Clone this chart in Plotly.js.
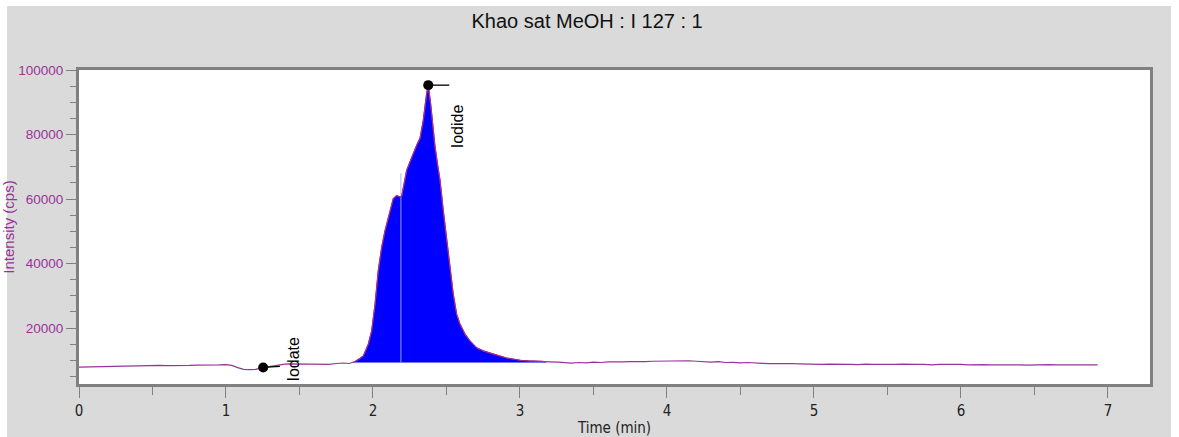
<!DOCTYPE html>
<html>
<head>
<meta charset="utf-8">
<script src="https://cdn.plot.ly/plotly-3.0.1.min.js"></script>
<style>html,body{margin:0;padding:0;background:#fff;}#chart{width:1179px;height:437px;}</style>
</head>
<body>
<div id="chart"></div>
<script>
// Chromatogram: time (min) and intensity (cps)
const timeMin = [
  0, 0.05, 0.1, 0.15, 0.2, 0.25, 0.3, 0.35, 0.4, 0.45, 0.5, 0.55, 0.6, 0.65, 0.7, 0.75, 0.8, 0.85, 0.9, 0.95,
  1.0, 1.04, 1.08, 1.12, 1.16, 1.2, 1.25, 1.3, 1.35, 1.4, 1.45, 1.5, 1.55, 1.6, 1.65, 1.7, 1.75, 1.8, 1.84,
  1.88, 1.91, 1.934, 1.95, 1.968, 1.991, 2.014, 2.036, 2.059, 2.082, 2.104, 2.12, 2.138, 2.161, 2.18, 2.195,
  2.206, 2.229, 2.247, 2.263, 2.286, 2.3, 2.32, 2.342, 2.365, 2.376, 2.392, 2.405, 2.422, 2.44, 2.456, 2.478,
  2.495, 2.512, 2.53, 2.546, 2.569, 2.592, 2.626, 2.66, 2.705, 2.751, 2.8, 2.85, 2.909, 2.95, 3.0, 3.06,
  3.114, 3.16, 3.204, 3.26,
  3.3, 3.35, 3.4, 3.45, 3.5, 3.55, 3.6, 3.65, 3.7, 3.75, 3.8, 3.85, 3.9, 3.95, 4.0, 4.05, 4.1, 4.15, 4.2,
  4.25, 4.3, 4.35, 4.4, 4.45, 4.5, 4.55, 4.6, 4.65, 4.7, 4.75, 4.8, 4.85, 4.9, 4.95, 5.0, 5.05, 5.1, 5.15,
  5.2, 5.25, 5.3, 5.35, 5.4, 5.45, 5.5, 5.55, 5.6, 5.65, 5.7, 5.75, 5.8, 5.85, 5.9, 5.95, 6.0, 6.05, 6.1,
  6.15, 6.2, 6.25, 6.3, 6.35, 6.4, 6.45, 6.5, 6.55, 6.6, 6.65, 6.7, 6.75, 6.8, 6.85, 6.93
];
const intensityCps = [
  7900, 7950, 7900, 8050, 8150, 8250, 8200, 8300, 8250, 8350, 8300, 8400, 8350, 8300, 8450, 8400, 8500, 8450, 8600, 8550,
  8650, 8400, 7700, 7200, 7100, 7150, 7700, 8100, 8500, 8800, 8900, 8850, 8950, 8800, 8900, 8750, 9000, 9150, 9000,
  9700, 10500, 11350, 13000, 15000, 19100, 27400, 37800, 45000, 50200, 54400, 57500, 60100, 61100, 60700, 60800,
  63700, 68900, 71000, 73000, 75600, 77000, 78800, 84400, 92700, 95300, 89600, 83000, 76200, 70500, 65800, 56500,
  50000, 44000, 36500, 30500, 24300, 21200, 18100, 16000, 13900, 12900, 12200, 11500, 10700, 10400, 10000, 9800,
  9600, 9650, 9500, 9400,
  9300, 9100, 9300, 9200, 9400, 9300, 9500, 9400, 9500, 9600, 9500, 9600, 9700, 9750, 9850, 9900, 9800, 9850, 9700,
  9500, 9400, 9600, 9300, 9350, 9200, 9300, 9100, 9050, 8950, 9000, 8950, 9000, 8900, 8800, 8850, 8700, 8800, 8850,
  8700, 8750, 8650, 8800, 8700, 8650, 8750, 8700, 8800, 8650, 8700, 8750, 8600, 8700, 8750, 8650, 8700, 8600, 8700,
  8650, 8550, 8600, 8650, 8550, 8600, 8500, 8600, 8550, 8650, 8600, 8550, 8650, 8600, 8550, 8600
];

// Integrated peak window and its baseline
const fillStartTime = 1.86;
const fillEndTime = 3.18;
const fillBaseline = 9300;
// faint split line inside the integrated area
const splitTime = [2.19, 2.19];
const splitLevel = [9300, 68000];

// Peak markers
const peakNames = ['Iodate', 'Iodide'];
const peakTimes = [1.253, 2.376];
const peakHeights = [7770, 95300];
const markTailTimes = [1.367, 2.519];
const markTailHeights = [8100, 95300];
const labelTimes = [1.456, 2.571];
const labelHeights = [null, 75100];

const fillX = [], fillY = [];
timeMin.forEach((t, i) => { if (t >= fillStartTime && t <= fillEndTime) { fillX.push(t); fillY.push(intensityCps[i]); } });

const purple = '#993399';
const narrow = 'Liberation Sans Narrow, Arial Narrow, DejaVu Sans Condensed, Liberation Sans, sans-serif';
const traces = [
  { x: [fillStartTime, fillEndTime], y: [fillBaseline, fillBaseline], mode: 'lines',
    line: { color: 'rgba(120,120,255,0.9)', width: 1 }, hoverinfo: 'skip', showlegend: false },
  { x: fillX, y: fillY, mode: 'lines', fill: 'tonexty', fillcolor: '#0000ff',
    line: { color: '#cc0033', width: 1 }, showlegend: false },
  { x: splitTime, y: splitLevel, mode: 'lines', line: { color: 'rgba(170,170,255,0.9)', width: 1 },
    hoverinfo: 'skip', showlegend: false },
  { x: timeMin, y: intensityCps, mode: 'lines', line: { color: purple, width: 1.2 }, showlegend: false }
];
peakNames.forEach((n, i) => {
  traces.push({ x: [peakTimes[i], markTailTimes[i]], y: [peakHeights[i], markTailHeights[i]], mode: 'lines',
    line: { color: '#000', width: 1.3 }, showlegend: false, hoverinfo: 'skip' });
  traces.push({ x: [peakTimes[i]], y: [peakHeights[i]], mode: 'markers', name: n, cliponaxis: false,
    marker: { color: '#000', size: 10 }, showlegend: false });
});

const annotations = peakNames.map((n, i) => {
  const a = { text: n, x: labelTimes[i], xref: 'x', showarrow: false, textangle: -90,
    font: { family: 'Liberation Sans, Arial, sans-serif', size: 16, color: '#000' },
    xanchor: 'center', yanchor: 'bottom' };
  if (labelHeights[i] === null) { a.yref = 'paper'; a.y = 0; } else { a.yref = 'y'; a.y = labelHeights[i]; }
  return a;
});

const layout = {
  width: 1179, height: 437,
  margin: { l: 79, r: 29, t: 70, b: 53 },
  paper_bgcolor: '#ffffff', plot_bgcolor: '#ffffff',
  title: { text: 'Khao sat MeOH : I 127 : 1', x: 0.498, xref: 'container', xanchor: 'center',
    y: 0.952, yref: 'container', yanchor: 'middle',
    font: { family: 'Liberation Sans, Arial, sans-serif', size: 20, color: '#111' } },
  xaxis: {
    range: [0, 7.286], tick0: 0, dtick: 1, ticks: 'outside', ticklen: 11, tickcolor: '#808080', tickwidth: 1,
    minor: { dtick: 0.5, ticks: 'outside', ticklen: 8, tickcolor: '#808080', tickwidth: 1 },
    showline: true, linecolor: '#808080', linewidth: 3, mirror: true, showgrid: false, zeroline: false,
    tickfont: { family: narrow, size: 15, color: '#222' },
    title: { text: 'Time (min)', standoff: 6, font: { family: narrow, size: 15, color: '#222' } }
  },
  yaxis: {
    range: [2640, 100000], tick0: 0, dtick: 20000, tickformat: 'd', ticks: 'outside', ticklen: 10,
    tickcolor: '#808080', tickwidth: 1,
    minor: { dtick: 5000, ticks: 'outside', ticklen: 6, tickcolor: '#808080', tickwidth: 1 },
    showline: true, linecolor: '#808080', linewidth: 3, mirror: true, showgrid: false, zeroline: false,
    tickfont: { family: 'Liberation Sans, Arial, sans-serif', size: 13.5, color: purple },
    title: { text: 'Intensity (cps)', standoff: 0,
      font: { family: 'Liberation Sans, Arial, sans-serif', size: 15, color: purple } }
  },
  shapes: [
    { type: 'rect', xref: 'paper', yref: 'paper', x0: -0.0672, x1: 1.0196, y0: -0.17, y1: 1.2038,
      fillcolor: '#dadada', line: { width: 0 }, layer: 'below' },
    { type: 'rect', xref: 'paper', yref: 'paper', x0: 0, x1: 1, y0: 0, y1: 1,
      fillcolor: '#ffffff', line: { width: 0 }, layer: 'below' }
  ],
  annotations: annotations,
  showlegend: false
};

Plotly.newPlot('chart', traces, layout, { displayModeBar: false, staticPlot: true });
</script>
</body>
</html>
